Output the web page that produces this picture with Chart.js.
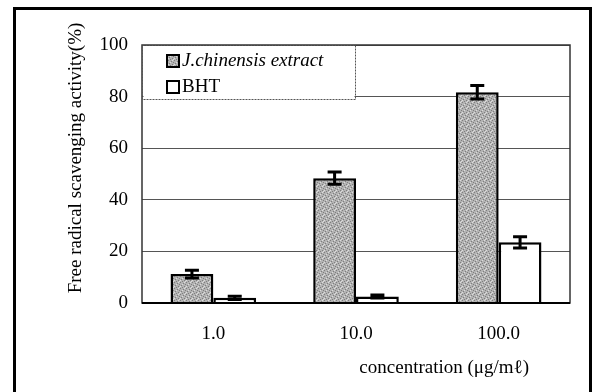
<!DOCTYPE html>
<html>
<head>
<meta charset="utf-8">
<script src="https://cdn.jsdelivr.net/npm/chart.js@4/dist/chart.umd.min.js"></script>
<style>
  html, body { margin: 0; padding: 0; background: #fff; }
  #wrap { width: 595px; height: 392px; }
</style>
</head>
<body>
<div id="wrap"><canvas id="chart" width="595" height="392"></canvas></div>
<script>
// data
const categories = ['1.0', '10.0', '100.0'];
const extractValues = [11.2, 48.4, 81.7];
const extractErrors = [1.5, 2.4, 2.6];
const bhtValues = [2.0, 2.5, 23.5];
const bhtErrors = [0.6, 0.6, 2.2];
const yTicks = [0, 20, 40, 60, 80, 100];
const seriesNames = ['J.chinensis extract', 'BHT'];

const serif = '"Liberation Serif", "DejaVu Serif", serif';

// grey stipple fill for the extract bars (fixed tile, no randomness)
function stipple() {
    const c = document.createElement('canvas');
    c.width = 6; c.height = 6;
    const g = c.getContext('2d');
    g.fillStyle = '#b3b3b3';
    g.fillRect(0, 0, 6, 6);
    g.fillStyle = '#7e7e7e';
    const dots = [[0,0],[3,1],[1,3],[4,4],[2,5],[5,2]];
    dots.forEach(d => g.fillRect(d[0], d[1], 1, 1));
    g.fillStyle = '#dcdcdc';
    [[2,2],[5,5],[0,4],[4,0]].forEach(d => g.fillRect(d[0], d[1], 1, 1));
    return g.createPattern(c, 'repeat');
}

const errorBars = {
    id: 'errorBars',
    afterDatasetsDraw(chart) {
        const ctx = chart.ctx;
        const y = chart.scales.y;
        const errs = [extractErrors, bhtErrors];
        ctx.save();
        ctx.strokeStyle = '#000';
        ctx.lineWidth = 3;
        chart.data.datasets.forEach((ds, i) => {
            chart.getDatasetMeta(i).data.forEach((bar, j) => {
                const v = ds.data[j], e = errs[i][j];
                const top = y.getPixelForValue(v + e);
                const bot = y.getPixelForValue(v - e);
                const x = bar.x;
                ctx.beginPath();
                ctx.moveTo(x, top); ctx.lineTo(x, bot);
                ctx.moveTo(x - 7, top); ctx.lineTo(x + 7, top);
                ctx.moveTo(x - 7, bot); ctx.lineTo(x + 7, bot);
                ctx.stroke();
            });
        });
        ctx.restore();
    }
};

const decorations = {
    id: 'decorations',
    afterDraw(chart) {
        const ctx = chart.ctx;
        const a = chart.chartArea;
        ctx.save();
        // plot frame
        ctx.strokeStyle = '#333';
        ctx.lineWidth = 1.5;
        ctx.strokeRect(a.left, a.top, a.right - a.left, a.bottom - a.top);
        ctx.strokeStyle = '#000';
        ctx.lineWidth = 2;
        ctx.beginPath();
        ctx.moveTo(a.left, a.bottom); ctx.lineTo(a.right, a.bottom);
        ctx.stroke();

        // legend box
        ctx.fillStyle = '#fff';
        ctx.fillRect(a.left + 1.5, a.top + 1.5, 211, 52);
        ctx.strokeStyle = '#555';
        ctx.lineWidth = 1;
        ctx.setLineDash([2, 1]);
        ctx.strokeRect(a.left + 0.5, a.top + 0.5, 213, 54);
        ctx.setLineDash([]);
        const fills = [stipple(), '#fff'];
        const rows = [a.top + 16, a.top + 42];
        ctx.textBaseline = 'middle';
        ctx.textAlign = 'left';
        rows.forEach((ry, i) => {
            ctx.fillStyle = fills[i];
            ctx.fillRect(a.left + 25, ry - 6, 12, 12);
            ctx.strokeStyle = '#000';
            ctx.lineWidth = 2;
            ctx.strokeRect(a.left + 25, ry - 6, 12, 12);
            ctx.fillStyle = '#000';
            ctx.font = (i === 0 ? 'italic ' : '') + '19px ' + serif;
            ctx.fillText(seriesNames[i], a.left + 40, ry);
        });

        // axis titles
        ctx.fillStyle = '#000';
        ctx.font = '19px ' + serif;
        ctx.textAlign = 'right';
        ctx.fillText('concentration (\u03bcg/m\u2113)', 529, 368);
        ctx.translate(76, 158);
        ctx.rotate(-Math.PI / 2);
        ctx.textAlign = 'center';
        ctx.fillText('Free radical scavenging activity(%)', 0, 0);
        ctx.restore();

        // outer frame
        ctx.save();
        ctx.strokeStyle = '#000';
        ctx.lineWidth = 3;
        ctx.strokeRect(14.5, 8.5, 576, 400);
        ctx.restore();
    }
};

new Chart(document.getElementById('chart').getContext('2d'), {
    type: 'bar',
    data: {
        labels: categories,
        datasets: [{
            label: seriesNames[0],
            data: extractValues,
            backgroundColor: stipple(),
            borderColor: '#000',
            borderWidth: 2.5
        }, {
            label: seriesNames[1],
            data: bhtValues,
            backgroundColor: '#fff',
            borderColor: '#000',
            borderWidth: 2.5
        }]
    },
    options: {
        responsive: false,
        animation: false,
        layout: { padding: { top: 45, right: 25, left: 0, bottom: 0 } },
        categoryPercentage: 0.6,
        barPercentage: 1.0,
        plugins: { legend: { display: false }, tooltip: { enabled: false } },
        scales: {
            x: {
                grid: { display: false, drawTicks: false },
                border: { display: false },
                ticks: { color: '#000', font: { family: serif, size: 19 }, padding: 20 },
                afterFit(s) { s.height = 89; }
            },
            y: {
                min: 0, max: 100,
                afterBuildTicks(s) { s.ticks = yTicks.map(v => ({ value: v })); },
                grid: { color: '#555', lineWidth: 1, drawTicks: false },
                border: { display: false },
                ticks: { color: '#000', font: { family: serif, size: 19 }, padding: 14 },
                afterFit(s) { s.width = 142; }
            }
        }
    },
    plugins: [errorBars, decorations]
});
</script>
</body>
</html>
